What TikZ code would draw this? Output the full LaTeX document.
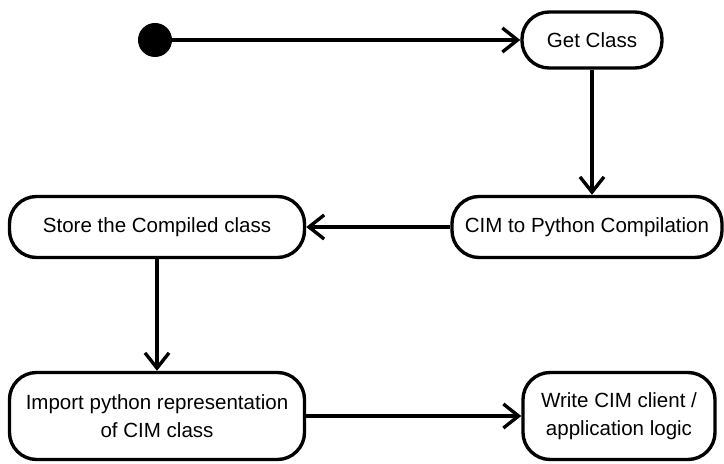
\documentclass[tikz,border=0pt]{standalone}
\usepackage{fontspec}
\setmainfont{Liberation Sans}
\usetikzlibrary{arrows.meta,positioning}

\begin{document}
\begin{tikzpicture}[x=0.025cm,y=-0.025cm,
    box/.style={draw,line width=2.4pt,rounded corners=0.68cm,
                minimum height=1.525cm,align=center,inner sep=0pt,
                font=\fontsize{14.6}{20}\selectfont},
    flow/.style={-{Straight Barb[length=0.38cm,width=0.6cm]},line width=2.4pt},
  ]
    \useasboundingbox (0,0) rectangle (724,464);
    \node[circle,fill,minimum size=0.85cm,inner sep=0pt] (start) at (155,40) {};
    \node[box,minimum width=3.5cm,minimum height=1.4cm] (getc) at (592,40) {Get Class};
    \node[box,minimum width=6.75cm]  (cim)   at (587,227) {CIM to Python Compilation};
    \node[box,minimum width=7.375cm] (store) at (157,227) {Store the Compiled class};
    \node[box,minimum width=7.375cm,minimum height=2.175cm] (import) at (157,416)
      {Import python representation\\of CIM class};
    \node[box,minimum width=4.8cm,minimum height=2.175cm]   (write)  at (619,416)
      {Write CIM client /\\application logic};
    \draw[flow] (start) -- (getc);
    \draw[flow] (getc) -- (getc |- cim.north);
    \draw[flow] (cim) -- (store);
    \draw[flow] (store) -- (import);
    \draw[flow] (import) -- (write);
  \end{tikzpicture}
\end{document}
